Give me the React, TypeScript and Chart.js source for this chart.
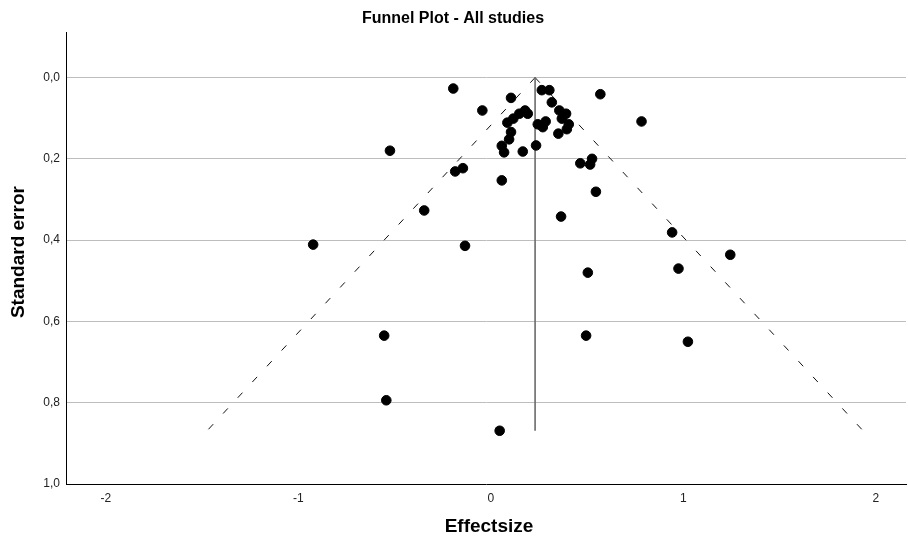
import React, { useEffect, useRef } from 'react';
import { Chart, registerables } from 'chart.js';

Chart.register(...registerables);

// Study effect sizes (x) and standard errors (y)
const effectSize = [
  -0.195, -0.044, 0.105, 0.265, 0.304, 0.569, 0.317, 0.178, 0.192, 0.148,
  0.117, 0.086, 0.356, 0.391, 0.369, 0.244, 0.285, 0.27, 0.405, 0.395,
  0.351, 0.105, 0.095, 0.783, 0.057, 0.069, 0.166, 0.235, 0.465, 0.526,
  0.516, -0.185, -0.145, 0.057, 0.546, -0.524, -0.346, -0.923, -0.134, 0.365,
  0.504, 0.495, 0.942, 1.244, 0.975, 1.024, -0.554, -0.543, 0.046,
];
const standardError = [
  0.027, 0.081, 0.05, 0.031, 0.031, 0.041, 0.061, 0.081, 0.089, 0.089,
  0.101, 0.111, 0.081, 0.089, 0.101, 0.115, 0.108, 0.122, 0.115, 0.127,
  0.138, 0.134, 0.152, 0.108, 0.168, 0.184, 0.182, 0.167, 0.211, 0.2,
  0.214, 0.231, 0.223, 0.253, 0.281, 0.18, 0.327, 0.411, 0.414, 0.342,
  0.48, 0.635, 0.381, 0.436, 0.47, 0.65, 0.635, 0.794, 0.869,
];

// Pooled-effect reference line and funnel limits
const pooledX = [0.23, 0.23];
const pooledY = [0, 0.869];
const funnelLeftX = [0.23, -1.474];
const funnelRightX = [0.23, 1.934];
const funnelY = [0, 0.869];

const xTicks = [-2, -1, 0, 1, 2];
const yTicks = [0, 0.2, 0.4, 0.6, 0.8, 1.0];

const xTitle = 'Effectsize';
const yTitle = 'Standard error';

const FONT = "'Liberation Sans', Arial, sans-serif";

const toPts = (xs: number[], ys: number[]) => xs.map((x, i) => ({ x, y: ys[i] }));

const axisTitles = {
  id: 'axisTitles',
  afterDraw(chart: any) {
    const { ctx, chartArea } = chart;
    ctx.save();
    ctx.fillStyle = '#000';
    ctx.font = `bold 19px ${FONT}`;
    ctx.textAlign = 'center';
    ctx.textBaseline = 'middle';
    ctx.fillText(xTitle, (chartArea.left + chartArea.right) / 2 + 3, chart.height - 11);
    ctx.translate(19, (chartArea.top + chartArea.bottom) / 2 - 6);
    ctx.rotate(-Math.PI / 2);
    ctx.fillText(yTitle, 0, 0);
    ctx.restore();
  },
};

export default function App() {
  const ref = useRef<HTMLCanvasElement | null>(null);

  useEffect(() => {
    if (!ref.current) return;
    const chart = new Chart(ref.current, {
      type: 'scatter',
      data: {
        datasets: [
          {
            data: toPts(effectSize, standardError),
            backgroundColor: '#000',
            borderColor: '#000',
            pointRadius: 4.8,
            pointBorderWidth: 1,
            showLine: false,
          },
          {
            data: toPts(pooledX, pooledY),
            showLine: true,
            borderColor: '#6a6a6a',
            borderWidth: 1.6,
            pointRadius: 0,
          },
          {
            data: toPts(funnelLeftX, funnelY),
            showLine: true,
            borderColor: '#111',
            borderWidth: 1,
            borderDash: [7, 14.5],
            pointRadius: 0,
          },
          {
            data: toPts(funnelRightX, funnelY),
            showLine: true,
            borderColor: '#111',
            borderWidth: 1,
            borderDash: [7, 14.5],
            pointRadius: 0,
          },
        ],
      },
      plugins: [axisTitles],
      options: {
        responsive: false,
        animation: false,
        layout: { autoPadding: false, padding: { left: 0, right: 2, top: 0, bottom: 0 } },
        plugins: {
          legend: { display: false },
          tooltip: { enabled: false },
          title: {
            display: true,
            text: 'Funnel Plot - All studies',
            color: '#000',
            font: { family: FONT, size: 16, weight: 'bold' },
            padding: { top: 9, bottom: 4 },
          },
        },
        scales: {
          x: {
            type: 'linear',
            min: -2.207,
            max: 2.157,
            afterFit: (s: any) => {
              s.height = 54;
              s.paddingLeft = 0;
              s.paddingRight = 0;
            },
            afterBuildTicks: (s: any) => { s.ticks = xTicks.map((v) => ({ value: v })); },
            grid: { display: true, color: 'rgba(0,0,0,0)', drawTicks: false },
            border: { display: true, color: '#000', width: 1 },
            ticks: {
              color: '#222',
              padding: 7,
              font: { family: FONT, size: 12 },
              callback: (v: any) => String(v),
            },
            title: { display: false },
          },
          y: {
            type: 'linear',
            reverse: true,
            min: -0.1116,
            max: 1.0,
            afterFit: (s: any) => {
              s.width = 66;
              s.paddingTop = 0;
              s.paddingBottom = 0;
            },
            afterBuildTicks: (s: any) => { s.ticks = yTicks.map((v) => ({ value: v })); },
            grid: {
              drawTicks: false,
              lineWidth: 1,
              color: (ctx: any) => (ctx.tick && ctx.tick.value >= 0.99 ? 'rgba(0,0,0,0)' : '#bdbdbd'),
            },
            border: { display: true, color: '#000', width: 1 },
            ticks: {
              color: '#222',
              padding: 6,
              font: { family: FONT, size: 12 },
              callback: (v: any) => Number(v).toFixed(1).replace('.', ','),
            },
            title: { display: false },
          },
        },
      },
    });
    return () => chart.destroy();
  }, []);

  return (
    <div style={{ position: 'fixed', left: 0, top: 0, width: 908, height: 538, background: '#fff' }}>
      <canvas ref={ref} width={908} height={538} style={{ display: 'block' }} />
    </div>
  );
}
